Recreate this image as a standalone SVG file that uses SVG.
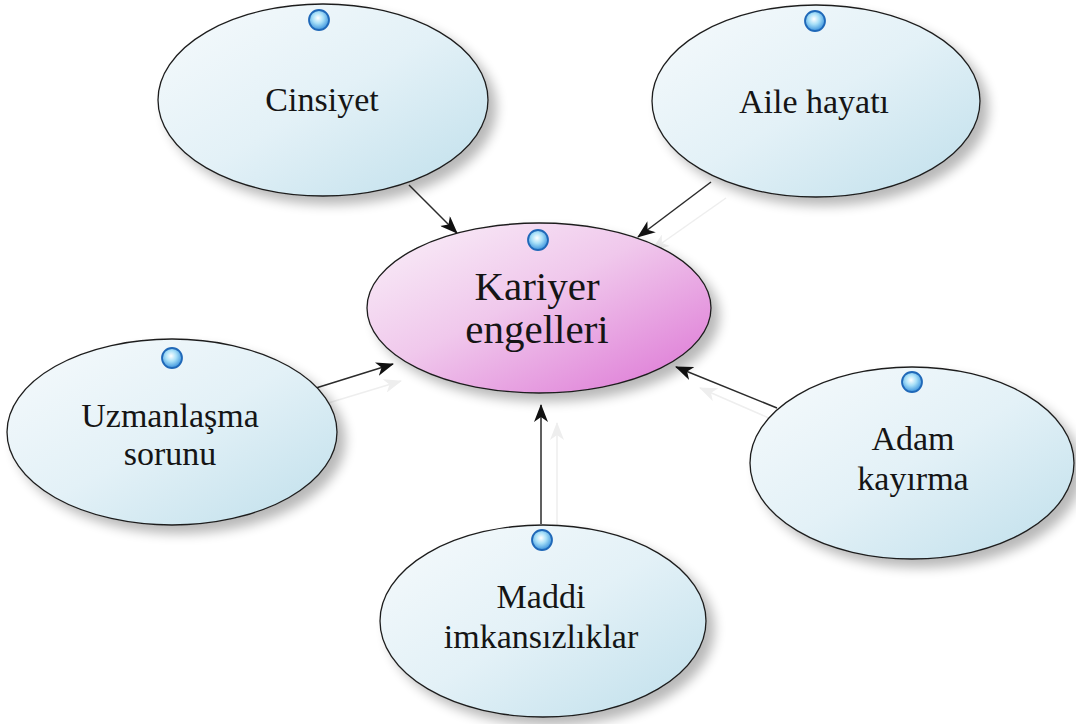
<svg xmlns="http://www.w3.org/2000/svg" width="1076" height="724" viewBox="0 0 1076 724">
  <defs>
    <style>
      .node { stroke: #1e1e1e; stroke-width: 1.3; }
      .leaf { fill: url(#blueFill); }
      .hub { fill: url(#pinkFill); }
      .label { fill: #151515; text-anchor: middle; }
      .dot { fill: url(#dotFill); stroke: #1f68b8; stroke-width: 1.8; }
      .edge { stroke: #2b2b2b; stroke-width: 1.5; fill: none; marker-end: url(#arrow); }
      .edge-shadow { stroke: #eeeeee; stroke-width: 1.5; fill: none; marker-end: url(#arrowShadow); }
    </style>
    <linearGradient id="blueFill" x1="0" y1="0" x2="1" y2="1">
      <stop offset="0" stop-color="#f6fafc"/>
      <stop offset="0.5" stop-color="#e3f1f7"/>
      <stop offset="1" stop-color="#bfdfeb"/>
    </linearGradient>
    <linearGradient id="pinkFill" x1="0" y1="0" x2="1" y2="1">
      <stop offset="0" stop-color="#faf2f9"/>
      <stop offset="0.45" stop-color="#f0c8ec"/>
      <stop offset="1" stop-color="#dc72d4"/>
    </linearGradient>
    <radialGradient id="dotFill" cx="0.45" cy="0.4" r="0.6">
      <stop offset="0" stop-color="#ffffff"/>
      <stop offset="0.45" stop-color="#a8e0f8"/>
      <stop offset="1" stop-color="#3a92dc"/>
    </radialGradient>
    <filter id="softShadow" x="-20%" y="-20%" width="145%" height="150%">
      <feGaussianBlur in="SourceAlpha" stdDeviation="6"/>
      <feOffset dx="8" dy="8" result="blur"/>
      <feComponentTransfer><feFuncA type="linear" slope="0.28"/></feComponentTransfer>
      <feMerge><feMergeNode/><feMergeNode in="SourceGraphic"/></feMerge>
    </filter>
    <marker id="arrow" viewBox="0 0 18 14" refX="17" refY="7" markerWidth="18" markerHeight="14" markerUnits="userSpaceOnUse" orient="auto">
      <path d="M0,0 L18,7 L0,14 L5,7 z" fill="#111"/>
    </marker>
    <marker id="arrowShadow" viewBox="0 0 18 14" refX="17" refY="7" markerWidth="18" markerHeight="14" markerUnits="userSpaceOnUse" orient="auto">
      <path d="M0,0 L18,7 L0,14 L5,7 z" fill="#eeeeee"/>
    </marker>
  </defs>

  <rect width="1076" height="724" fill="#ffffff"/>

  <!-- connectors: faint offset copies, then the dark arrows -->
  <g id="connectors">
    <line class="edge-shadow" x1="425" y1="200" x2="470" y2="248"/>
    <line class="edge-shadow" x1="726" y1="198" x2="652" y2="250"/>
    <line class="edge-shadow" x1="325" y1="404" x2="401" y2="381"/>
    <line class="edge-shadow" x1="792" y1="428" x2="700" y2="388"/>
    <line class="edge-shadow" x1="557" y1="540" x2="557" y2="423"/>

    <line class="edge" x1="409" y1="185" x2="457" y2="233"/>
    <line class="edge" x1="711" y1="182" x2="638" y2="237"/>
    <line class="edge" x1="316" y1="388" x2="393" y2="364"/>
    <line class="edge" x1="777" y1="408" x2="676" y2="367"/>
    <line class="edge" x1="541" y1="524" x2="541" y2="405"/>
  </g>

  <g font-family="'Liberation Serif', 'Times New Roman', serif" font-size="34">
    <g id="cinsiyet">
      <ellipse class="node leaf" cx="323" cy="100" rx="165" ry="96" filter="url(#softShadow)"/>
      <circle class="dot" cx="319" cy="20" r="10"/>
      <text class="label" x="322" y="111">Cinsiyet</text>
    </g>

    <g id="aile-hayati">
      <ellipse class="node leaf" cx="816" cy="101" rx="164" ry="96" filter="url(#softShadow)"/>
      <circle class="dot" cx="815" cy="21" r="10"/>
      <text class="label" x="814" y="113">Aile hayatı</text>
    </g>

    <g id="kariyer-engelleri">
      <ellipse class="node hub" cx="539" cy="308" rx="172" ry="85" filter="url(#softShadow)"/>
      <circle class="dot" cx="538" cy="240" r="10"/>
      <text class="label" x="537" y="300" font-size="41">Kariyer</text>
      <text class="label" x="537" y="343" font-size="41">engelleri</text>
    </g>

    <g id="uzmanlasma-sorunu">
      <ellipse class="node leaf" cx="172" cy="432" rx="165" ry="93" filter="url(#softShadow)"/>
      <circle class="dot" cx="172" cy="358" r="10"/>
      <text class="label" x="170" y="427">Uzmanlaşma</text>
      <text class="label" x="170" y="465">sorunu</text>
    </g>

    <g id="adam-kayirma">
      <ellipse class="node leaf" cx="912" cy="463" rx="162" ry="96" filter="url(#softShadow)"/>
      <circle class="dot" cx="912" cy="382" r="10"/>
      <text class="label" x="913" y="450">Adam</text>
      <text class="label" x="913" y="490">kayırma</text>
    </g>

    <g id="maddi-imkansizliklar">
      <ellipse class="node leaf" cx="543" cy="621" rx="163" ry="96" filter="url(#softShadow)"/>
      <circle class="dot" cx="542" cy="540" r="10"/>
      <text class="label" x="541" y="608">Maddi</text>
      <text class="label" x="541" y="648">imkansızlıklar</text>
    </g>
  </g>
</svg>
